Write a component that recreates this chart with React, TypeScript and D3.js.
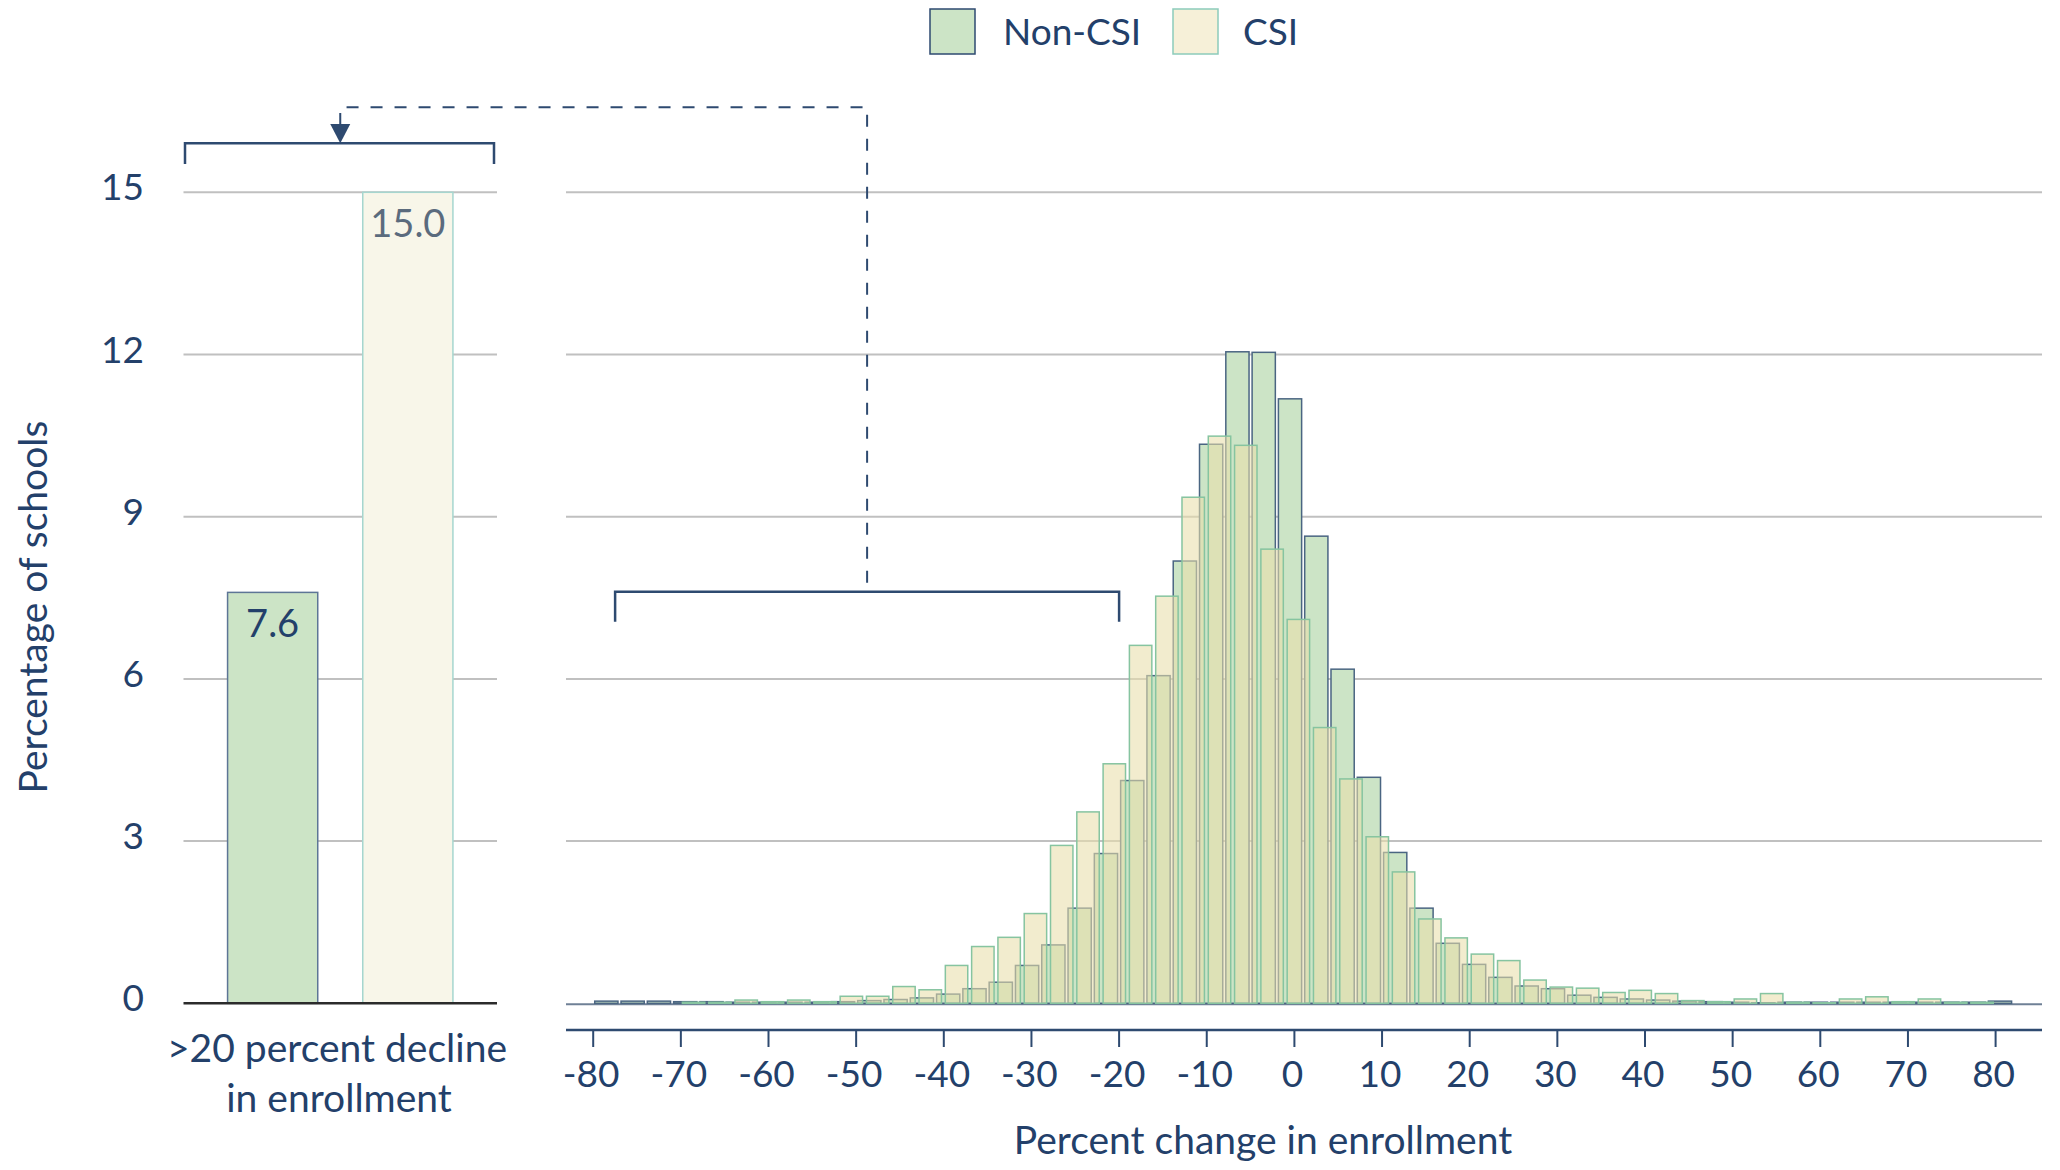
import * as d3 from "d3";

// histogram bins: percent change in enrollment (bin centre)
const binCenters = [
  -78, -75, -72, -69, -66, -63, -60, -57, -54, -51, -48, -45, -42, -39, -36, -33, -30, -27,
  -24, -21, -18, -15, -12, -9, -6, -3, 0, 3, 6, 9, 12, 15, 18, 21, 24, 27,
  30, 33, 36, 39, 42, 45, 48, 51, 54, 57, 60, 63, 66, 69, 72, 75, 78, 81,
];

const nonCsiPct = [
  0.04, 0.04, 0.04, 0.03, 0.03, 0.02, 0.02, 0.02, 0.02, 0.03, 0.05, 0.07, 0.1, 0.17, 0.27, 0.39, 0.7, 1.08,
  1.76, 2.77, 4.12, 6.06, 8.18, 10.34, 12.05, 12.04, 11.18, 8.64, 6.18, 4.18, 2.79, 1.76, 1.11, 0.72, 0.48, 0.32,
  0.27, 0.15, 0.11, 0.08, 0.06, 0.04, 0.03, 0.02, 0.01, 0.02, 0.02, 0.02, 0.02, 0.02, 0.02, 0.02, 0.02, 0.04,
];

const csiPct = [
  0, 0, 0, 0.02, 0.02, 0.06, 0.03, 0.06, 0.03, 0.13, 0.13, 0.31, 0.25, 0.7, 1.05, 1.22, 1.66, 2.92,
  3.54, 4.43, 6.62, 7.53, 9.36, 10.49, 10.32, 8.4, 7.1, 5.1, 4.15, 3.08, 2.43, 1.56, 1.21, 0.91, 0.79, 0.43,
  0.3, 0.28, 0.2, 0.24, 0.18, 0.05, 0.03, 0.08, 0.18, 0.02, 0.01, 0.08, 0.12, 0.03, 0.08, 0.02, 0.02, 0,
];

// left panel: share of schools with >20 percent decline
const groups = ["Non-CSI", "CSI"];
const declineShare = [7.6, 15.0];

const yTicks = [0, 3, 6, 9, 12, 15];
const xTicks = [-80, -70, -60, -50, -40, -30, -20, -10, 0, 10, 20, 30, 40, 50, 60, 70, 80];
const bracketRange = [-77.5, -20];

const NAVY = "#23406a";
const FONT = "Lato, 'Open Sans', sans-serif";
const GREEN_FILL = "#cce4c6";
const CSI_FILL = "#e9deaa";

export default function App() {
  const y = d3.scaleLinear().domain([0, 15]).range([1003.3, 192.3]);
  const x = d3.scaleLinear().domain([-80, 80]).range([593.2, 1995.6]);
  const band = d3
    .scaleBand()
    .domain(groups)
    .range([183.5, 497])
    .paddingInner(0.333)
    .paddingOuter(0.326);

  const rightX0 = 566;
  const rightX1 = 2042;
  const axisY = 1030;
  const barW = x(2.65) - x(0);

  const leftMid = (band.range()[0] + band.range()[1]) / 2;
  const bx0 = x(bracketRange[0]);
  const bx1 = x(bracketRange[1]);
  const bxMid = (bx0 + bx1) / 2;
  const topBracketY = 143.3;
  const dashY = 107.3;
  const bracketY = y(7.6) - 0.7;

  return (
    <div style={{ position: "absolute", left: 0, top: 0 }}>
      <svg width={2060} height={1170} style={{ display: "block", background: "#fff" }} fontFamily={FONT}>
        {/* legend */}
        <rect x={930} y={9} width={45} height={45} fill={GREEN_FILL} stroke="#2e4a70" strokeWidth={1.5} />
        <text x={1003} y={45} fontSize={37} fill={NAVY}>Non-CSI</text>
        <rect x={1173} y={9} width={45} height={45} fill="#f6f0d8" stroke="#8ccbbb" strokeWidth={1.5} />
        <text x={1243} y={45} fontSize={37} fill={NAVY}>CSI</text>

        {/* y axis title */}
        <text
          transform={`translate(47, 607) rotate(-90)`}
          textAnchor="middle"
          fontSize={39}
          fill={NAVY}
        >
          Percentage of schools
        </text>

        {/* y tick labels */}
        {yTicks.map((t) => (
          <text key={t} x={144} y={y(t) + 8} textAnchor="end" fontSize={37} fill={NAVY}>
            {t}
          </text>
        ))}

        {/* gridlines */}
        {yTicks.filter((t) => t > 0).map((t) => (
          <g key={"g" + t}>
            <line x1={band.range()[0]} x2={band.range()[1]} y1={y(t)} y2={y(t)} stroke="#c0c0c0" strokeWidth={2} />
            <line x1={rightX0} x2={rightX1} y1={y(t)} y2={y(t)} stroke="#c0c0c0" strokeWidth={2} />
          </g>
        ))}

        {/* left panel bars */}
        <rect
          x={band("Non-CSI")}
          y={y(declineShare[0])}
          width={band.bandwidth()}
          height={y(0) - y(declineShare[0])}
          fill={GREEN_FILL}
          stroke="#5d7596"
          strokeWidth={1.5}
        />
        <rect
          x={band("CSI")}
          y={y(declineShare[1])}
          width={band.bandwidth()}
          height={y(0) - y(declineShare[1])}
          fill="#f8f6e9"
          stroke="#a6d6cf"
          strokeWidth={1.5}
        />
        <text
          x={band("Non-CSI")! + band.bandwidth() / 2}
          y={y(declineShare[0]) + 45}
          textAnchor="middle"
          fontSize={38}
          fill={NAVY}
        >
          {declineShare[0].toFixed(1)}
        </text>
        <text
          x={band("CSI")! + band.bandwidth() / 2}
          y={y(declineShare[1]) + 45}
          textAnchor="middle"
          fontSize={38}
          fill="#5b6b7d"
        >
          {declineShare[1].toFixed(1)}
        </text>
        <line x1={band.range()[0]} x2={band.range()[1]} y1={y(0)} y2={y(0)} stroke="#2b2b2b" strokeWidth={2.5} />

        <text x={337} y={1062} textAnchor="middle" fontSize={39} fill={NAVY}>
          {">20 percent decline"}
        </text>
        <text x={339} y={1112} textAnchor="middle" fontSize={39} fill={NAVY}>
          in enrollment
        </text>

        {/* histogram baseline */}
        <line x1={rightX0} x2={rightX1} y1={y(0) + 1} y2={y(0) + 1} stroke="#6f8096" strokeWidth={2} />

        {/* non-CSI bars */}
        {binCenters.map((c, i) =>
          nonCsiPct[i] > 0 ? (
            <rect
              key={"n" + c}
              x={x(c - 0.5) - barW / 2}
              y={y(nonCsiPct[i])}
              width={barW}
              height={y(0) - y(nonCsiPct[i])}
              fill={GREEN_FILL}
              stroke="#4a6582"
              strokeWidth={1.5}
            />
          ) : null
        )}

        {/* CSI bars, translucent on top */}
        {binCenters.map((c, i) =>
          csiPct[i] > 0 ? (
            <rect
              key={"c" + c}
              x={x(c + 0.5) - barW / 2}
              y={y(csiPct[i])}
              width={barW - 0.8}
              height={y(0) - y(csiPct[i])}
              fill={CSI_FILL}
              fillOpacity={0.58}
              stroke="#86c4a0"
              strokeWidth={1.5}
            />
          ) : null
        )}

        {/* x axis */}
        <line x1={rightX0} x2={rightX1} y1={axisY} y2={axisY} stroke="#2e4a70" strokeWidth={2.5} />
        {xTicks.map((t) => (
          <g key={"x" + t}>
            <line x1={x(t)} x2={x(t)} y1={axisY} y2={axisY + 17} stroke="#2e4a70" strokeWidth={2} />
            <text x={x(t) - 2} y={1087} textAnchor="middle" fontSize={37} fill={NAVY}>
              {t}
            </text>
          </g>
        ))}
        <text x={1263} y={1154} textAnchor="middle" fontSize={39} fill={NAVY}>
          Percent change in enrollment
        </text>

        {/* brackets and connector */}
        <path
          d={`M${bx0},${bracketY + 30} V${bracketY} H${bx1} V${bracketY + 30}`}
          fill="none"
          stroke="#2e4a70"
          strokeWidth={2.5}
        />
        <path
          d={`M${band.range()[0] + 1.5},164 V${topBracketY} H${band.range()[1] - 3} V164`}
          fill="none"
          stroke="#2e4a70"
          strokeWidth={2.5}
        />
        <path
          d={`M${leftMid},125 V${dashY} H${bxMid} V${bracketY}`}
          fill="none"
          stroke="#2e4a70"
          strokeWidth={2}
          strokeDasharray="12 12"
        />
        <path
          d={`M${leftMid - 10},124 L${leftMid + 10},124 L${leftMid},${topBracketY} Z`}
          fill="#2e4a70"
        />
      </svg>
    </div>
  );
}
